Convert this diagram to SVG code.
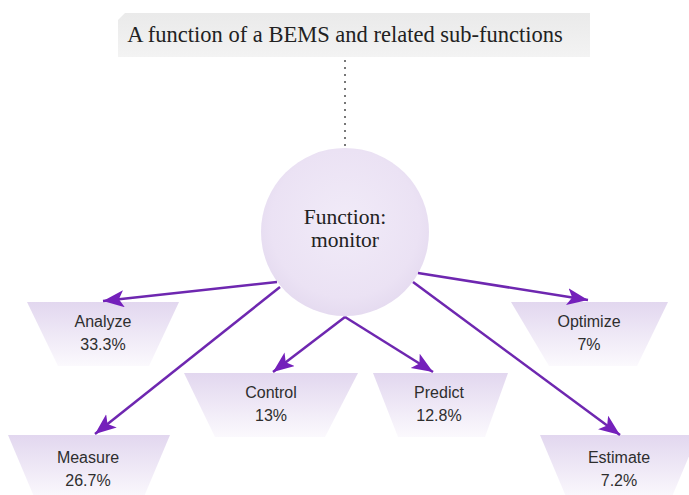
<svg xmlns="http://www.w3.org/2000/svg" width="689" height="495" viewBox="0 0 689 495">
<defs>
<linearGradient id="trap" x1="0" y1="0" x2="0" y2="1">
<stop offset="0" stop-color="#e2d7ef"/>
<stop offset="1" stop-color="#fbf9fd"/>
</linearGradient>
<linearGradient id="ban" x1="0" y1="0" x2="0" y2="1">
<stop offset="0" stop-color="#eaeaea"/>
<stop offset="1" stop-color="#f3f3f3"/>
</linearGradient>
<radialGradient id="circ" cx="0.5" cy="0.45" r="0.55">
<stop offset="0" stop-color="#f1ebf8"/>
<stop offset="0.8" stop-color="#ebe2f4"/>
<stop offset="1" stop-color="#e5dbf0"/>
</radialGradient>
<marker id="ah" markerUnits="userSpaceOnUse" markerWidth="24" markerHeight="20" refX="21" refY="8.5" orient="auto">
<path d="M0,0 L21,8.5 L0,17 L5,8.5 z" fill="#7420bb"/>
</marker>
<style>
.trap{fill:url(#trap);}
.lbl{font-family:"Liberation Sans",Arial,sans-serif;font-size:16px;fill:#2e2e2e;text-anchor:middle;}
.serif{font-family:"Liberation Serif","Times New Roman",serif;fill:#222;text-anchor:middle;}
.conn{stroke:#6e27b0;stroke-width:2.5;fill:none;marker-end:url(#ah);}
</style>
</defs>
<rect width="689" height="495" fill="#ffffff"/>
<g id="title">
<path d="M118,20 L125,13 L590,13 L590,57 L118,57 z" fill="url(#ban)"/>
<text class="serif" x="345" y="42" font-size="22.5">A function of a BEMS and related sub-functions</text>
</g>
<line x1="345" y1="60" x2="345" y2="146" stroke="#777" stroke-width="2" stroke-dasharray="2,5"/>
<g id="monitor">
<circle cx="345" cy="232" r="84" fill="url(#circ)"/>
<text class="serif" x="345" y="224" font-size="21.5">Function:</text>
<text class="serif" x="345" y="247" font-size="21.5">monitor</text>
</g>
<g id="analyze">
<path class="trap" d="M27,302 L179,302 L149,366 L58,366 z"/>
<text class="lbl" x="103" y="327">Analyze</text>
<text class="lbl" x="103" y="350">33.3%</text>
</g>
<g id="optimize">
<path class="trap" d="M511,302 L668,302 L637,366 L549,366 z"/>
<text class="lbl" x="589" y="327">Optimize</text>
<text class="lbl" x="589" y="350">7%</text>
</g>
<g id="control">
<path class="trap" d="M184,373 L358,373 L325,437 L215,437 z"/>
<text class="lbl" x="271" y="398">Control</text>
<text class="lbl" x="271" y="421">13%</text>
</g>
<g id="predict">
<path class="trap" d="M373,373 L508,373 L485,437 L398,437 z"/>
<text class="lbl" x="439" y="398">Predict</text>
<text class="lbl" x="439" y="421">12.8%</text>
</g>
<g id="measure">
<path class="trap" d="M8,435 L170,435 L143,499 L35,499 z"/>
<text class="lbl" x="88" y="463">Measure</text>
<text class="lbl" x="88" y="486">26.7%</text>
</g>
<g id="estimate">
<path class="trap" d="M540,435 L698,435 L671,499 L567,499 z"/>
<text class="lbl" x="619" y="463">Estimate</text>
<text class="lbl" x="619" y="486">7.2%</text>
</g>
<g id="connectors">
<line class="conn" x1="277" y1="282" x2="103" y2="301"/>
<line class="conn" x1="280" y1="287" x2="95" y2="434"/>
<line class="conn" x1="345" y1="317" x2="273" y2="372"/>
<line class="conn" x1="345" y1="317" x2="433" y2="372"/>
<line class="conn" x1="418" y1="273" x2="588" y2="300"/>
<line class="conn" x1="413" y1="282" x2="620" y2="435"/>
</g>
</svg>
